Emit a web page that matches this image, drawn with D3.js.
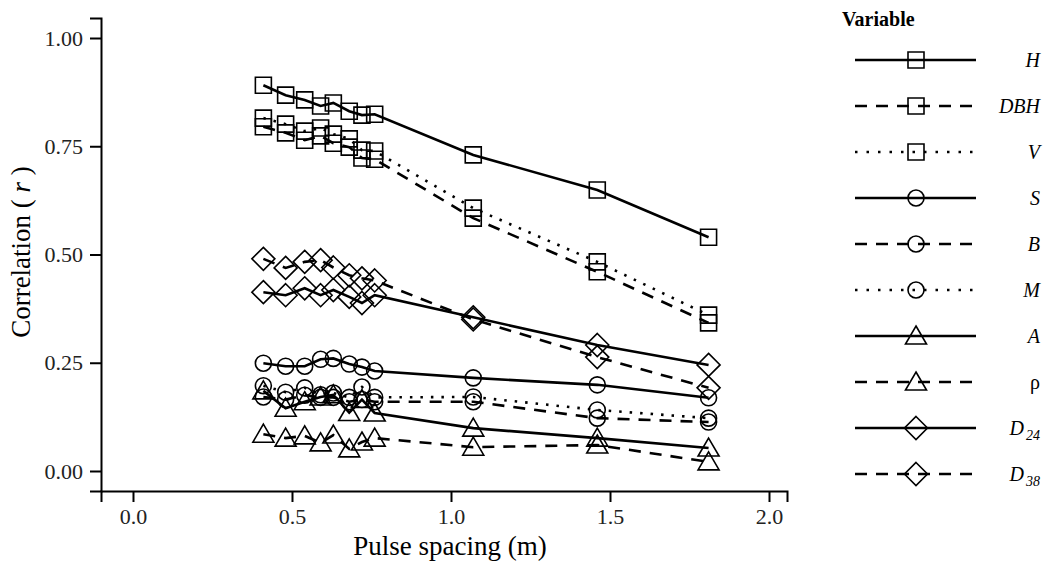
<!DOCTYPE html>
<html>
<head>
<meta charset="utf-8">
<script src="https://cdn.jsdelivr.net/npm/d3@7"></script>
<style>
  body { margin: 0; background: #fff; }
  text { font-family: "Liberation Serif", "Times New Roman", serif; }
</style>
</head>
<body>
<div id="chart"></div>
<script>
// pulse spacing (m)
const spacing = [0.41, 0.48, 0.54, 0.59, 0.63, 0.68, 0.72, 0.76, 1.07, 1.46, 1.81]

const H   = [0.891, 0.868, 0.857, 0.843, 0.850, 0.831, 0.822, 0.824, 0.730, 0.649, 0.540]
const DBH = [0.795, 0.781, 0.764, 0.774, 0.757, 0.748, 0.723, 0.720, 0.584, 0.460, 0.342]
const V   = [0.815, 0.801, 0.785, 0.792, 0.778, 0.767, 0.741, 0.739, 0.607, 0.483, 0.360]
const S   = [0.249, 0.242, 0.242, 0.258, 0.260, 0.247, 0.240, 0.231, 0.215, 0.199, 0.169]
const B   = [0.171, 0.165, 0.175, 0.170, 0.170, 0.160, 0.165, 0.160, 0.160, 0.122, 0.113]
const M   = [0.197, 0.182, 0.192, 0.176, 0.180, 0.170, 0.194, 0.170, 0.171, 0.141, 0.122]
const A   = [0.185, 0.145, 0.160, 0.171, 0.176, 0.135, 0.165, 0.134, 0.099, 0.076, 0.053]
const rho = [0.085, 0.076, 0.081, 0.065, 0.083, 0.051, 0.067, 0.076, 0.055, 0.060, 0.021]
const D24 = [0.413, 0.406, 0.422, 0.406, 0.418, 0.402, 0.388, 0.406, 0.355, 0.291, 0.245]
const D38 = [0.490, 0.469, 0.483, 0.487, 0.470, 0.452, 0.445, 0.440, 0.350, 0.263, 0.192]

const xTicks = [0, 0.5, 1, 1.5, 2]
const yTicks = [0, 0.25, 0.5, 0.75, 1]

const series = [
  { name: "H",   label: "H",   values: H,   line: "solid",  shape: "square" },
  { name: "DBH", label: "DBH", values: DBH, line: "dashed", shape: "square" },
  { name: "V",   label: "V",   values: V,   line: "dotted", shape: "square" },
  { name: "S",   label: "S",   values: S,   line: "solid",  shape: "circle" },
  { name: "B",   label: "B",   values: B,   line: "dashed", shape: "circle" },
  { name: "M",   label: "M",   values: M,   line: "dotted", shape: "circle" },
  { name: "A",   label: "A",   values: A,   line: "solid",  shape: "triangle" },
  { name: "rho", label: "ρ",   values: rho, line: "dashed", shape: "triangle" },
  { name: "D24", label: "D",   sub: "24", values: D24, line: "solid",  shape: "diamond" },
  { name: "D38", label: "D",   sub: "38", values: D38, line: "dashed", shape: "diamond" }
]

const width = 1046, height = 562
const svg = d3.select("#chart").append("svg")
  .attr("width", width)
  .attr("height", height)

const x = d3.scaleLinear().domain([-0.1006, 2.0566]).range([101, 787])
const y = d3.scaleLinear().domain([-0.0462, 1.0462]).range([491, 18])

const dashes = { solid: null, dashed: "12,9", dotted: "2.5,8" }

// marker paths (hollow)
function marker(shape) {
  if (shape == "square") return "M-8,-8H8V8H-8Z"
  if (shape == "circle") return d3.symbol(d3.symbolCircle, Math.PI * 8 * 8)()
  if (shape == "triangle") return "M0,-10L10.5,8L-10.5,8Z"
  return "M0,-11.5L11.5,0L0,11.5L-11.5,0Z"
}

// axes
svg.append("g")
  .attr("transform", `translate(0,${491})`)
  .call(d3.axisBottom(x).tickValues(xTicks).tickFormat(d3.format(".1f")).tickSizeOuter(0).tickSize(11).tickPadding(6))
svg.append("g")
  .attr("transform", `translate(${101},0)`)
  .call(d3.axisLeft(y).tickValues(yTicks).tickFormat(d3.format(".2f")).tickSizeOuter(0).tickSize(11).tickPadding(7))

svg.selectAll(".domain").attr("stroke", "#000").attr("stroke-width", 2)
svg.selectAll(".tick line").attr("stroke", "#000").attr("stroke-width", 2)
svg.selectAll(".tick text")
  .style("font-family", "Liberation Serif")
  .style("font-size", "22px")
  .attr("fill", "#222")

// axis titles
svg.append("text")
  .attr("x", 450)
  .attr("y", 555)
  .attr("text-anchor", "middle")
  .style("font-size", "27px")
  .text("Pulse spacing (m)")

const yt = svg.append("text")
  .attr("transform", `translate(${30},${252}) rotate(-90)`)
  .attr("text-anchor", "middle")
  .style("font-size", "27px")
yt.append("tspan").text("Correlation ( ")
yt.append("tspan").style("font-style", "italic").text("r")
yt.append("tspan").text(" )")

// lines
const line = d3.line()
  .x((d, i) => x(spacing[i]))
  .y(d => y(d))

const plot = svg.append("g")
series.forEach(s => {
  plot.append("path")
    .datum(s.values)
    .attr("d", line)
    .attr("fill", "none")
    .attr("stroke", "#000")
    .attr("stroke-width", 2.6)
    .attr("stroke-dasharray", dashes[s.line])
})
series.forEach(s => {
  plot.append("g").selectAll("path")
    .data(s.values)
    .join("path")
    .attr("transform", (d, i) => `translate(${x(spacing[i])},${y(d)})`)
    .attr("d", marker(s.shape))
    .attr("fill", "none")
    .attr("stroke", "#000")
    .attr("stroke-width", 1.6)
})

// legend
const legend = svg.append("g")
legend.append("text")
  .attr("x", 842)
  .attr("y", 26)
  .style("font-size", "20px")
  .style("font-weight", "bold")
  .text("Variable")

const rowY = d3.scalePoint().domain(series.map(s => s.name)).range([60, 474])
const item = legend.selectAll(".item")
  .data(series)
  .join("g")
  .attr("class", "item")
  .attr("transform", d => `translate(0,${rowY(d.name)})`)

item.append("line")
  .attr("x1", 855).attr("x2", 976)
  .attr("stroke", "#000")
  .attr("stroke-width", 2.6)
  .attr("stroke-dasharray", d => d.line == "dotted" ? "2.5,9" : dashes[d.line])
item.append("path")
  .attr("transform", "translate(916,0)")
  .attr("d", d => marker(d.shape))
  .attr("fill", "none")
  .attr("stroke", "#000")
  .attr("stroke-width", 1.6)

const lab = item.append("text")
  .attr("x", 1040)
  .attr("y", 7)
  .attr("text-anchor", "end")
  .style("font-size", "20px")
lab.append("tspan")
  .style("font-style", d => d.name == "rho" ? "normal" : "italic")
  .text(d => d.label)
lab.filter(d => d.sub).append("tspan")
  .attr("dy", 5)
  .attr("dx", 2)
  .style("font-size", "14px")
  .style("font-style", "italic")
  .text(d => d.sub)
</script>
</body>
</html>
